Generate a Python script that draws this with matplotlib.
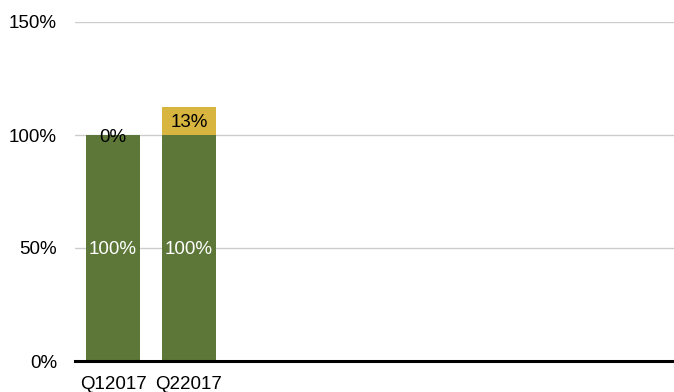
import matplotlib.pyplot as plt
import numpy as np

plt.rcParams['font.family'] = ['Liberation Sans', 'DejaVu Sans']

# data
quarters = ['Q12017', 'Q22017']
base_vals = [100, 100]
extra_vals = [0, 12.6]
n_slots = 7.88  # axis continues for empty quarters

green = '#5c7737'
yellow = '#d8b53f'

fig = plt.figure(figsize=(6.74, 3.92), dpi=100)
ax = fig.add_axes([75 / 674, 1 - 361 / 392, 1 - 75 / 674, (361 - 22) / 392])

x = np.arange(len(quarters))
w = 0.71
b1 = ax.bar(x, base_vals, width=w, color=green, zorder=2)
b2 = ax.bar(x, extra_vals, width=w, bottom=base_vals, color=yellow, zorder=2)

for xi, v in zip(x, base_vals):
    ax.text(xi, v / 2, f'{v:.0f}%', ha='center', va='center_baseline',
            color='white', fontsize=13.5, zorder=3)
for xi, b, v in zip(x, base_vals, extra_vals):
    ax.text(xi, b + v / 2, f'{v:.0f}%', ha='center', va='center_baseline',
            color='black', fontsize=13.5, zorder=3)

ax.set_xlim(-0.5, n_slots - 0.5)
ax.set_ylim(0, 150)
ax.set_yticks([0, 50, 100, 150])
ax.set_yticklabels([f'{t}%' for t in [0, 50, 100, 150]])
ax.set_xticks(x)
ax.set_xticklabels(quarters)
ax.tick_params(axis='y', length=0, pad=13, labelsize=13.5)
ax.tick_params(axis='x', length=0, pad=11, labelsize=13.5)

ax.grid(axis='y', color='#cccccc', linewidth=1, zorder=1)
for s in ['top', 'right', 'left']:
    ax.spines[s].set_visible(False)
ax.spines['bottom'].set_linewidth(2.2)
ax.spines['bottom'].set_zorder(4)

fig.savefig('out.png', dpi=100)
